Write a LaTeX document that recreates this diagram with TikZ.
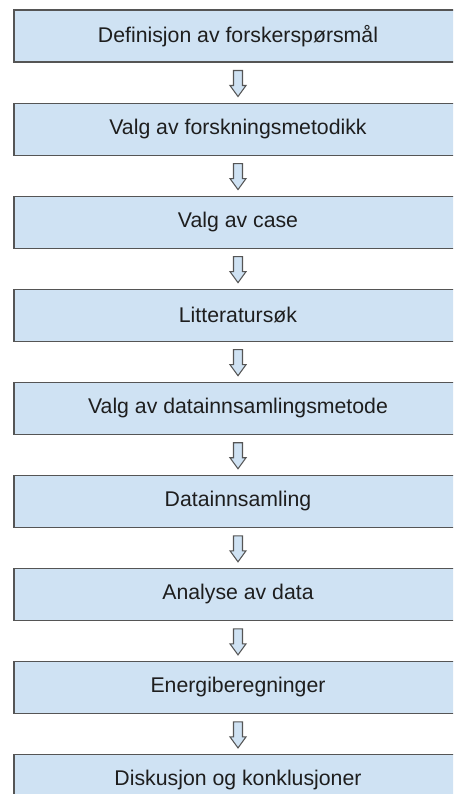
\documentclass[tikz,border=0pt]{standalone}
\usepackage{xcolor}
\usepackage{fontspec}
\setmainfont{Liberation Sans}
\usepackage{tikz}
\usetikzlibrary{positioning, calc}

\definecolor{boxblue}{HTML}{CFE2F3}
\definecolor{linegray}{HTML}{555555}
\definecolor{textgray}{HTML}{1E1E1E}

\begin{document}
\begin{tikzpicture}[
    node distance=0.8cm,
    every node/.style={font=\fontsize{12.1}{14}\selectfont, text=textgray},
    stage/.style={rectangle, draw=linegray, fill=boxblue, line width=0.6pt, minimum width=8.96cm, minimum height=1.04cm, inner sep=0pt},
    flow/.style={draw=linegray, fill=boxblue, line width=0.6pt, line join=miter,
        to path={let \p1=(\tikztostart.south), \p2=(\tikztotarget.north) in
            (\x1-0.09cm,\y1-0.16cm) -- (\x1+0.09cm,\y1-0.16cm) -- (\x1+0.09cm,\y2+0.34cm)
            -- (\x1+0.16cm,\y2+0.34cm) -- (\x1,\y2+0.12cm) -- (\x1-0.16cm,\y2+0.34cm)
            -- (\x1-0.09cm,\y2+0.34cm) -- cycle}}
]
    \path[use as bounding box, clip] (0,0) rectangle (9.06,-15.88);

    \node[stage] (definisjon) at (4.76,-0.72) {Definisjon av forskerspørsmål};
    \node[stage, below=of definisjon] (metodikk) {Valg av forskningsmetodikk};
    \node[stage, below=of metodikk] (case) {Valg av case};
    \node[stage, below=of case] (litteratur) {Litteratursøk};
    \node[stage, below=of litteratur] (metode) {Valg av datainnsamlingsmetode};
    \node[stage, below=of metode] (innsamling) {Datainnsamling};
    \node[stage, below=of innsamling] (analyse) {Analyse av data};
    \node[stage, below=of analyse] (energi) {Energiberegninger};
    \node[stage, below=of energi] (diskusjon) {Diskusjon og konklusjoner};

    \draw[flow] (definisjon) to (metodikk);
    \draw[flow] (metodikk) to (case);
    \draw[flow] (case) to (litteratur);
    \draw[flow] (litteratur) to (metode);
    \draw[flow] (metode) to (innsamling);
    \draw[flow] (innsamling) to (analyse);
    \draw[flow] (analyse) to (energi);
    \draw[flow] (energi) to (diskusjon);
\end{tikzpicture}
\end{document}
